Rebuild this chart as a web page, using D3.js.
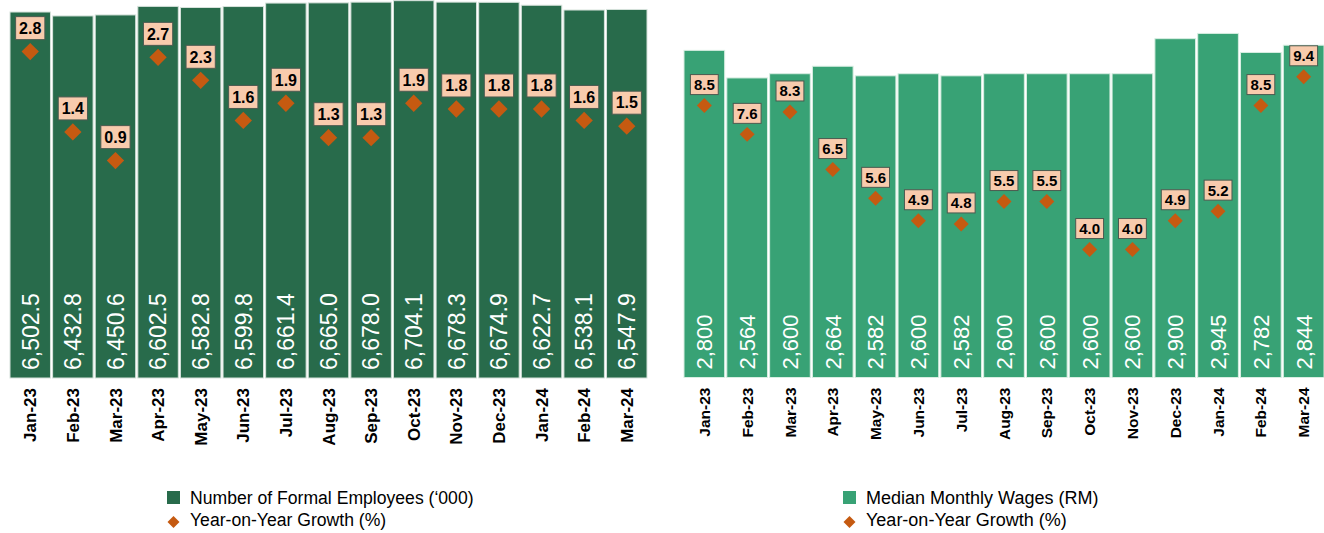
<!DOCTYPE html>
<meta charset="utf-8">
<style>
body { margin: 0; background: #fff; }
text { font-family: "Liberation Sans", Arial, sans-serif; }
</style>
<svg width="1324" height="533"></svg>
<script src="https://d3js.org/d3.v7.min.js"></script>
<script>
var months = ["Jan-23", "Feb-23", "Mar-23", "Apr-23", "May-23", "Jun-23", "Jul-23", "Aug-23",
  "Sep-23", "Oct-23", "Nov-23", "Dec-23", "Jan-24", "Feb-24", "Mar-24"];

var employees = [6502.5, 6432.8, 6450.6, 6602.5, 6582.8, 6599.8, 6661.4, 6665.0,
  6678.0, 6704.1, 6678.3, 6674.9, 6622.7, 6538.1, 6547.9];
var employeesYoY = [2.8, 1.4, 0.9, 2.7, 2.3, 1.6, 1.9, 1.3, 1.3, 1.9, 1.8, 1.8, 1.8, 1.6, 1.5];

var wages = [2800, 2564, 2600, 2664, 2582, 2600, 2582, 2600, 2600, 2600, 2600, 2900, 2945, 2782, 2844];
var wagesYoY = [8.5, 7.6, 8.3, 6.5, 5.6, 4.9, 4.8, 5.5, 5.5, 4.0, 4.0, 4.9, 5.2, 8.5, 9.4];

var svg = d3.select("svg");
var orange = "#c55a11";

function panel(o) {
  var g = svg.append("g");
  var x = d3.scaleBand().domain(months).range(o.xRange).paddingInner(0.05).paddingOuter(0);
  var y = d3.scaleLinear().domain(o.yDomain).range([o.bottom, 0]);
  var y2 = d3.scaleLinear().domain(o.y2Domain).range([o.bottom, 0]);
  var rows = months.map(function(m, i) { return {m: m, v: o.values[i], g: o.growth[i]}; });

  g.selectAll("rect.bar").data(rows).enter().append("rect")
      .attr("class", "bar")
      .attr("x", function(d) { return x(d.m); })
      .attr("width", x.bandwidth())
      .attr("y", function(d) { return y(d.v); })
      .attr("height", function(d) { return o.bottom - y(d.v); })
      .attr("fill", o.color)
      .attr("stroke", o.stroke)
      .attr("stroke-width", 1);

  // value inside bar, rotated
  g.selectAll("text.val").data(rows).enter().append("text")
      .attr("class", "val")
      .attr("transform", function(d) { return "translate(" + (x(d.m) + x.bandwidth() / 2) + "," + (o.bottom - 8) + ") rotate(-90)"; })
      .attr("dy", "0.36em")
      .attr("fill", "#fff")
      .attr("font-size", o.valSize)
      .text(function(d) { return o.fmt(d.v); });

  // category labels
  g.selectAll("text.cat").data(rows).enter().append("text")
      .attr("class", "cat")
      .attr("transform", function(d) { return "translate(" + (x(d.m) + x.bandwidth() / 2) + "," + (o.bottom + 10) + ") rotate(-90)"; })
      .attr("dy", "0.36em")
      .attr("text-anchor", "end")
      .attr("font-weight", "bold")
      .attr("font-size", o.catSize)
      .attr("fill", "#000")
      .text(function(d) { return d.m; });

  // growth diamonds
  g.selectAll("path.dia").data(rows).enter().append("path")
      .attr("class", "dia")
      .attr("d", d3.symbol(d3.symbolSquare, o.diaArea))
      .attr("transform", function(d) { return "translate(" + (x(d.m) + x.bandwidth() / 2) + "," + y2(d.g) + ") rotate(45)"; })
      .attr("fill", orange);

  // growth labels
  var lab = g.selectAll("g.lab").data(rows).enter().append("g")
      .attr("class", "lab")
      .attr("transform", function(d) { return "translate(" + (x(d.m) + x.bandwidth() / 2) + "," + (y2(d.g) - o.labOffset) + ")"; });
  lab.append("rect")
      .attr("fill", "#f8cbad")
      .attr("stroke", "#4b5a50")
      .attr("stroke-width", 1);
  var t = lab.append("text")
      .attr("text-anchor", "middle")
      .attr("dy", "0.36em")
      .attr("font-weight", "bold")
      .attr("font-size", o.labSize)
      .attr("fill", "#000")
      .text(function(d) { return d.g.toFixed(1); });
  t.each(function(d) {
    var w = this.getComputedTextLength() + 7;
    d3.select(this.parentNode).select("rect")
      .attr("x", -w / 2).attr("width", w)
      .attr("y", -o.labH / 2).attr("height", o.labH);
  });

  // legend
  var lg = svg.append("g").attr("transform", "translate(" + o.legX + ",0)");
  lg.append("rect").attr("x", 0).attr("y", 491).attr("width", 13).attr("height", 13).attr("fill", o.color);
  lg.append("path").attr("d", d3.symbol(d3.symbolSquare, 72))
    .attr("transform", "translate(6.5,522) rotate(45)").attr("fill", orange);
  lg.append("text").attr("x", 23).attr("y", 498).attr("dy", "0.36em")
    .attr("font-size", o.legSize).attr("fill", "#000").text(o.legend);
  lg.append("text").attr("x", 23).attr("y", 520).attr("dy", "0.36em")
    .attr("font-size", o.legSize).attr("fill", "#000").text("Year-on-Year Growth (%)");
}

var comma1 = d3.format(",.1f"), comma0 = d3.format(",.0f");

panel({
  xRange: [10, 647], bottom: 378, yDomain: [0, 6716], y2Domain: [-2.89, 3.7],
  values: employees, growth: employeesYoY, fmt: comma1,
  color: "#286b4b", stroke: "#d6e2db",
  valSize: 23, catSize: 17, labSize: 16, labH: 23, labOffset: 23.5, diaArea: 150,
  legX: 167, legSize: 17.6, legend: "Number of Formal Employees (\u2018000)"
});

panel({
  xRange: [684, 1324], bottom: 377.5, yDomain: [0, 3231], y2Domain: [0, 11.8],
  values: wages, growth: wagesYoY, fmt: comma0,
  color: "#38a275", stroke: "#d8eee2",
  valSize: 22, catSize: 15.5, labSize: 15, labH: 20, labOffset: 21, diaArea: 112,
  legX: 843, legSize: 18, legend: "Median Monthly Wages (RM)"
});
</script>
